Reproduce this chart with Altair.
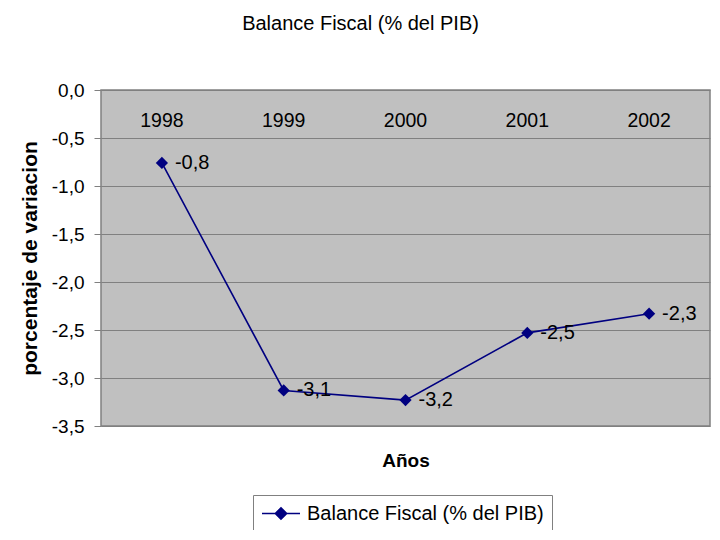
import altair as alt
import pandas as pd

years = ["1998", "1999", "2000", "2001", "2002"]
values = [-0.76, -3.13, -3.23, -2.53, -2.33]
series = "Balance Fiscal (% del PIB)"

df = pd.DataFrame({"year": years, "value": values, "serie": [series] * len(years)})

FONT = "Liberation Sans"
NAVY = "#000080"

x = alt.X("year:N", scale=alt.Scale(domain=years), sort=years,
          axis=alt.Axis(title="Años", labels=False, ticks=False, domain=False,
                        titleFontSize=19, titleFontWeight="bold", titleFont=FONT,
                        titlePadding=25, titleColor="black"))
y = alt.Y("value:Q", scale=alt.Scale(domain=[-3.5, 0], nice=False),
          axis=alt.Axis(title="porcentaje de variacion", values=[0, -0.5, -1, -1.5, -2, -2.5, -3, -3.5],
                        labelExpr="replace(replace(format(datum.value, '.1f'), '.', ','), '\u2212', '-')",
                        labelFontSize=19, labelFont=FONT, labelColor="black", labelPadding=10,
                        tickSize=7, tickColor="#808080", domain=False,
                        grid=True, gridColor="#808080", gridOpacity=1, gridWidth=1,
                        titleFontSize=21, titleFontWeight="bold", titleFont=FONT, titleColor="black",
                        titlePadding=11))

color = alt.Color("serie:N", scale=alt.Scale(domain=[series], range=[NAVY]),
                  legend=alt.Legend(title=None, orient="none", legendX=152, legendY=405,
                                    symbolType="M-1,0H3M1,-0.6L1.6,0L1,0.6L0.4,0Z",
                                    symbolSize=361, symbolStrokeWidth=1.5,
                                    symbolFillColor=NAVY, symbolStrokeColor=NAVY,
                                    labelFontSize=20, labelFont=FONT, labelColor="black",
                                    labelLimit=400,
                                    strokeColor="#808080", fillColor="white",
                                    padding=8, labelOffset=25))

base = alt.Chart(df)

line = base.mark_line(strokeWidth=1.6).encode(x=x, y=y, color=color)
pts = base.mark_point(shape="diamond", filled=True, size=150, opacity=1).encode(
    x=x, y=y, color=alt.Color("serie:N", scale=alt.Scale(domain=[series], range=[NAVY]), legend=None))
labels = base.transform_calculate(
    lab="replace(replace(format(datum.value, '.1f'), '.', ','), '\u2212', '-')"
).mark_text(align="left", baseline="middle", dx=13, fontSize=20, font=FONT, color="black").encode(
    x=x, y=y, text="lab:N")
yearlab = base.mark_text(align="center", baseline="middle", fontSize=19.5, font=FONT, color="black").encode(
    x=x, y=alt.value(31), text="year:N")

chart = alt.layer(line, pts, labels, yearlab).properties(
    width=609, height=336,
    title=alt.TitleParams("Balance Fiscal (% del PIB)", font=FONT, fontSize=20, fontWeight="normal",
                          color="black", anchor="middle", dx=-45, offset=47),
    autosize=alt.AutoSizeParams(type="none"),
    padding={"left": 93, "top": 82, "right": 2, "bottom": 104},
).configure_view(fill="#C0C0C0", stroke="#808080", strokeWidth=1.5)

chart.save("out.html", embed_options={"renderer": "svg", "actions": False})
